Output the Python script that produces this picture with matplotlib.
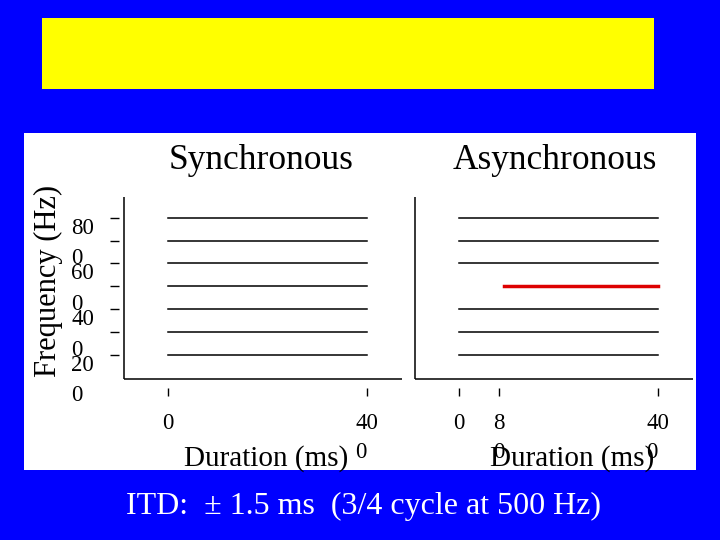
import matplotlib
matplotlib.use("Agg")

import matplotlib.pyplot as plt
from matplotlib.patches import Rectangle


# tone frequencies (Hz) and on/offsets (ms)
freqs = [200, 300, 400, 500, 600, 700, 800]
sync_onsets = [0, 0, 0, 0, 0, 0, 0]
async_onsets = [0, 0, 0, 90, 0, 0, 0]
offset_ms = 400
delayed_freq = 500

ytick_vals = [200, 300, 400, 500, 600, 700, 800]
ytick_labels = ["20\n0", "", "40\n0", "", "60\n0", "", "80\n0"]
sync_xticks = [0, 400]
sync_xlabels = ["0", "40\n0"]
async_xticks = [0, 80, 400]
async_xlabels = ["0", "8\n0", "40\n0"]

BLUE = "#0000FF"
SERIF = "Liberation Serif"

plt.rcParams["font.family"] = SERIF

fig = plt.figure(figsize=(7.2, 5.4), dpi=100)
fig.patch.set_facecolor(BLUE)

W, H = 720.0, 540.0


def fx(px):
    return px / W


def fy(py):
    return 1 - py / H


# yellow title box and white panel
fig.patches.append(Rectangle((fx(42), fy(89)), fx(654) - fx(42), fy(18) - fy(89),
                             transform=fig.transFigure, facecolor="#FFFF00",
                             edgecolor="none", zorder=-10))
fig.patches.append(Rectangle((fx(24), fy(470)), fx(696) - fx(24), fy(133) - fy(470),
                             transform=fig.transFigure, facecolor="white",
                             edgecolor="none", zorder=-10))

ax_bottom = fy(379)
ax_height = (379 - 196.7) / H
ax1 = fig.add_axes([fx(124.3), ax_bottom, (402 - 124.3) / W, ax_height])
ax2 = fig.add_axes([fx(415), ax_bottom, (693 - 415) / W, ax_height])


def style_axes(ax, xticks, xlabels):
    ax.set_facecolor("none")
    ax.set_xlim(-88, 471)
    ax.set_ylim(95, 892)
    for side in ["top", "right", "left", "bottom"]:
        ax.spines[side].set_visible(False)
    ax.spines["left"].set_position(("outward", 5 * 0.72))
    ax.spines["bottom"].set_position(("outward", 9 * 0.72))
    # axis lines drawn at the plot edge, ticks sit detached from them
    ax.plot([0, 0], [0, 1], color="black", lw=1.1, transform=ax.transAxes,
            clip_on=False, solid_capstyle="butt")
    ax.plot([0, 1], [0, 0], color="black", lw=1.1, transform=ax.transAxes,
            clip_on=False, solid_capstyle="butt")
    ax.set_xticks(xticks)
    ax.set_xticklabels(xlabels, fontsize=16.5, linespacing=1.5)
    ax.tick_params(axis="x", direction="out", length=5.8, width=1.0, pad=12.5)
    for lbl in ax.get_xticklabels():
        lbl.set_multialignment("left")


style_axes(ax1, sync_xticks, sync_xlabels)
style_axes(ax2, async_xticks, async_xlabels)

ax1.set_yticks(ytick_vals)
ax1.set_yticklabels(ytick_labels, fontsize=16.5, linespacing=1.58)
ax1.tick_params(axis="y", direction="out", length=6.7, width=1.0, pad=11.5)
for lbl in ax1.get_yticklabels():
    lbl.set_va("top")
    lbl.set_multialignment("left")
ax2.set_yticks([])

for f, on in zip(freqs, sync_onsets):
    ax1.plot([on, offset_ms], [f, f], color="black", lw=1.1)

for f, on in zip(freqs, async_onsets):
    if f == delayed_freq:
        ax2.plot([on, offset_ms], [f, f], color="#DD0000", lw=2.5)
    else:
        ax2.plot([on, offset_ms], [f, f], color="black", lw=1.1)

# titles and labels
fig.text(fx(261), fy(169), "Synchronous", fontsize=25.5, ha="center", va="baseline")
fig.text(fx(555), fy(169), "Asynchronous", fontsize=25.5, ha="center", va="baseline")
fig.text(fx(266.5), fy(466), "Duration (ms)", fontsize=21, ha="center", va="baseline")
fig.text(fx(572.5), fy(466), "Duration (ms)", fontsize=21, ha="center", va="baseline")
fig.text(fx(48), fy(281), "Frequency (Hz)", fontsize=22, rotation=90,
         ha="center", va="center")

fig.text(fx(363), fy(514), "ITD:  \u00b1 1.5 ms  (3/4 cycle at 500 Hz)",
         fontsize=23, color="white", ha="center", va="baseline")

fig.savefig("out.png", dpi=100, facecolor=fig.get_facecolor())
